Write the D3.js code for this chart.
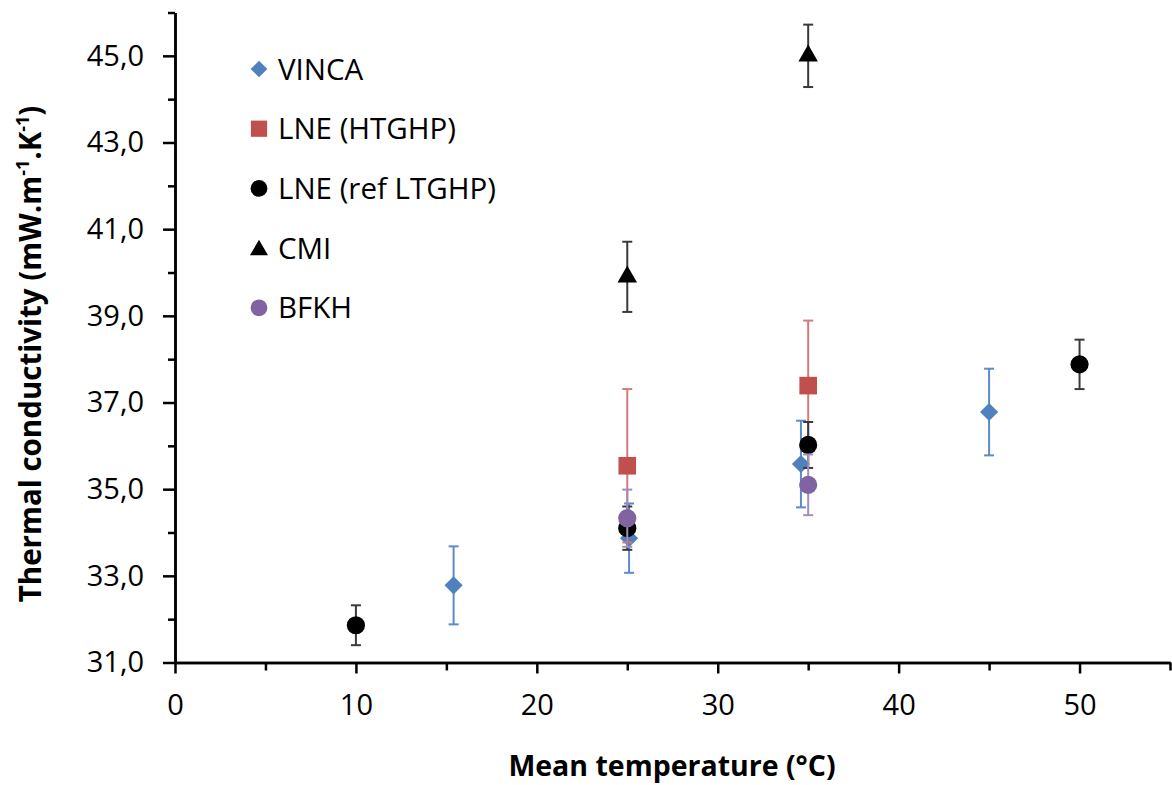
<!DOCTYPE html>
<html>
<head>
<meta charset="utf-8">
<script src="https://cdn.jsdelivr.net/npm/d3@7"></script>
<style>
  body { margin: 0; background: #fff; }
  text { font-family: "Open Sans", sans-serif; fill: #000; }
</style>
</head>
<body>
<svg id="chart" width="1172" height="785"></svg>
<script>
// series data (temperature in C, conductivity in mW/m/K, +/- error)
var vincaT = [15.4, 25.1, 34.6, 45.0];
var vincaK = [32.78, 33.87, 35.58, 36.78];
var vincaErr = [0.9, 0.8, 1.0, 1.0];

var lneHtT = [25, 35];
var lneHtK = [35.54, 37.39];
var lneHtErr = [1.77, 1.5];

var lneRefT = [10, 25, 35, 50];
var lneRefK = [31.86, 34.10, 36.02, 37.88];
var lneRefErr = [0.46, 0.5, 0.53, 0.57];

var cmiT = [25, 35];
var cmiK = [39.9, 45.0];
var cmiErr = [0.81, 0.72];

var bfkhT = [25, 35];
var bfkhK = [34.33, 35.1];
var bfkhErr = [0.66, 0.7];

var xMajorTicks = [0, 10, 20, 30, 40, 50];
var xMinorTicks = [5, 15, 25, 35, 45, 55];
var yMajorTicks = [31, 33, 35, 37, 39, 41, 43, 45];
var yMinorTicks = [32, 34, 36, 38, 40, 42, 44, 46];

var seriesNames = ["VINCA", "LNE (HTGHP)", "LNE (ref LTGHP)", "CMI", "BFKH"];

var series = [
  { name: seriesNames[0], t: vincaT, k: vincaK, e: vincaErr, shape: "diamond", fill: "#4F81BD", bar: "#5B8BCB" },
  { name: seriesNames[1], t: lneHtT, k: lneHtK, e: lneHtErr, shape: "square", fill: "#C0504D", bar: "#D27C7A" },
  { name: seriesNames[2], t: lneRefT, k: lneRefK, e: lneRefErr, shape: "circle", fill: "#000000", bar: "#3A3A3A" },
  { name: seriesNames[3], t: cmiT, k: cmiK, e: cmiErr, shape: "triangle", fill: "#000000", bar: "#3A3A3A" },
  { name: seriesNames[4], t: bfkhT, k: bfkhK, e: bfkhErr, shape: "circle", fill: "#8064A2", bar: "#A28CC0" }
];

var svg = d3.select("#chart");
var x = d3.scaleLinear().domain([0, 55]).range([175, 1170]);
var y = d3.scaleLinear().domain([31, 46]).range([662.5, 12.5]);
var fmt = function(d) { return d3.format(".1f")(d).replace(".", ","); };

var symbolFor = function(shape, scale) {
  if (shape == "diamond") return d3.symbol().type(d3.symbolSquare).size(165 * scale)();
  if (shape == "square") return d3.symbol().type(d3.symbolSquare).size(310 * scale)();
  if (shape == "triangle") return d3.symbol().type(d3.symbolTriangle).size(165 * scale)();
  return d3.symbol().type(d3.symbolCircle).size(260 * scale)();
};

// axes
var xMinor = svg.append("g").attr("transform", "translate(0,662.5)")
  .call(d3.axisBottom(x).tickValues(xMinorTicks).tickSize(8).tickSizeOuter(0).tickFormat(""));
var xMajor = svg.append("g").attr("transform", "translate(0,662.5)")
  .call(d3.axisBottom(x).tickValues(xMajorTicks).tickSize(11).tickSizeOuter(0).tickPadding(21));
var yMinor = svg.append("g").attr("transform", "translate(175,0)")
  .call(d3.axisLeft(y).tickValues(yMinorTicks).tickSize(7).tickSizeOuter(0).tickFormat(""));
var yMajor = svg.append("g").attr("transform", "translate(175,0)")
  .call(d3.axisLeft(y).tickValues(yMajorTicks).tickSize(12).tickSizeOuter(0).tickPadding(19).tickFormat(fmt));

[xMinor, xMajor, yMinor, yMajor].forEach(function(g) {
  g.selectAll("path.domain").attr("stroke", "#000").attr("stroke-width", 2.5);
  g.selectAll(".tick line").attr("stroke", "#000").attr("stroke-width", 2.5);
  g.selectAll(".tick text").attr("font-family", "Open Sans, sans-serif").attr("font-size", 29).attr("fill", "#000");
});

// error bars then markers, series by series
series.forEach(function(s) {
  var pts = s.t.map(function(t, i) { return { t: t, k: s.k[i], e: s.e[i] }; });
  var g = svg.append("g");
  var eb = g.selectAll(".err").data(pts).enter().append("g");
  eb.append("line")
    .attr("x1", function(d) { return x(d.t); }).attr("x2", function(d) { return x(d.t); })
    .attr("y1", function(d) { return y(d.k - d.e); }).attr("y2", function(d) { return y(d.k + d.e); })
    .attr("stroke", s.bar).attr("stroke-width", 2);
  [-1, 1].forEach(function(sign) {
    eb.append("line")
      .attr("x1", function(d) { return x(d.t) - 5; }).attr("x2", function(d) { return x(d.t) + 5; })
      .attr("y1", function(d) { return y(d.k + sign * d.e); }).attr("y2", function(d) { return y(d.k + sign * d.e); })
      .attr("stroke", s.bar).attr("stroke-width", 2);
  });
  g.selectAll(".mk").data(pts).enter().append("path")
    .attr("d", symbolFor(s.shape, 1))
    .attr("transform", function(d) {
      return "translate(" + x(d.t) + "," + y(d.k) + ")" + (s.shape == "diamond" ? " rotate(45)" : "");
    })
    .attr("fill", s.fill);
});

// legend
var leg = svg.append("g").selectAll("g").data(series).enter().append("g")
  .attr("transform", function(d, i) { return "translate(259," + (69 + i * 59.7) + ")"; });
leg.append("path")
  .attr("d", function(d) { return symbolFor(d.shape, 0.85); })
  .attr("transform", function(d) { return d.shape == "diamond" ? "rotate(45)" : (d.shape == "triangle" ? "translate(0,2)" : ""); })
  .attr("fill", function(d) { return d.fill; });
leg.append("text").attr("x", 19).attr("dy", "0.36em").attr("font-size", 29.5).text(function(d) { return d.name; });

// axis titles
svg.append("text").attr("x", 672).attr("y", 776).attr("text-anchor", "middle")
  .attr("font-size", 28.5).attr("font-weight", "bold").text("Mean temperature (°C)");

var yt = svg.append("text").attr("transform", "translate(41,354) rotate(-90)")
  .attr("text-anchor", "middle").attr("font-size", 29.5).attr("font-weight", "bold");
yt.append("tspan").text("Thermal conductivity (mW.m");
yt.append("tspan").attr("font-size", 18).attr("baseline-shift", "super").text("-1");
yt.append("tspan").text(".K");
yt.append("tspan").attr("font-size", 18).attr("baseline-shift", "super").text("-1");
yt.append("tspan").text(")");
</script>
</body>
</html>
